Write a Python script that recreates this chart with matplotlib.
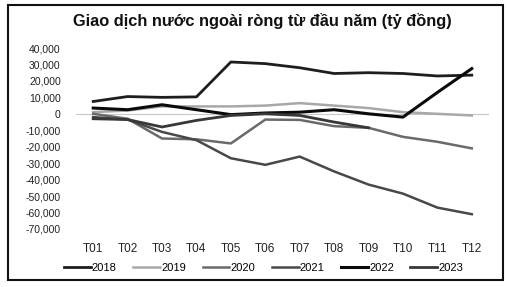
import numpy as np
import matplotlib.pyplot as plt
from matplotlib.patches import Rectangle

months = ["T01", "T02", "T03", "T04", "T05", "T06", "T07", "T08", "T09", "T10", "T11", "T12"]
years = ["2018", "2019", "2020", "2021", "2022", "2023"]

# cumulative net foreign trading (ty dong)
v2018 = [7500, 10500, 10000, 10300, 31500, 30500, 28000, 24500, 25000, 24500, 23000, 23500]
v2019 = [1000, 2000, 4500, 4500, 4500, 5000, 6500, 5000, 3500, 1000, 0, -1000]
v2020 = [0, -3000, -15000, -15500, -18000, -3500, -3700, -7500, -8500, -14000, -17000, -21000]
v2021 = [-2000, -3500, -11000, -16000, -27000, -31000, -26000, -35000, -43000, -48500, -57000, -61000]
v2022 = [3500, 2500, 5500, 2500, -500, 500, 1000, 2500, 0, -2000, 13000, 27500]
v2023 = [-3000, -3500, -8000, -4000, -1000, 0, -1000, -5000, -8500, np.nan, np.nan, np.nan]

series = [v2018, v2019, v2020, v2021, v2022, v2023]
colors = ["#1e1e1e", "#a8a8a8", "#6a6a6a", "#484848", "#0a0a0a", "#383838"]
widths = [2.0, 1.8, 1.8, 1.8, 2.2, 2.0]

plt.rcParams['font.family'] = ['Liberation Sans', 'DejaVu Sans']

fig = plt.figure(figsize=(5.07, 2.87), dpi=100)
ax = fig.add_axes([76 / 507, 1 - 229 / 287, (489 - 76) / 507, (229 - 48) / 287])

x = np.arange(len(months))
ax.axhline(0, color="#c8c8c8", lw=0.8, zorder=1)
for vals, yr, c, w in zip(series, years, colors, widths):
    ax.plot(x, vals, color=c, lw=w, label=yr, zorder=2)

ax.set_xlim(-0.5, len(months) - 0.5)
ax.set_ylim(-70000, 40000)
ax.set_yticks(np.arange(-70000, 40001, 10000))
ax.set_yticklabels([f"{t:,}" for t in range(-70000, 40001, 10000)], fontsize=7.5, color="#222222")
ax.set_xticks(x)
ax.set_xticklabels(months, fontsize=8.5, color="#222222")
ax.tick_params(length=0, pad=11)
ax.tick_params(axis="x", pad=10)
for s in ax.spines.values():
    s.set_visible(False)

fig.text(262 / 507, 1 - 21 / 287, "Giao dịch nước ngoài ròng từ đầu năm (tỷ đồng)",
         ha="center", va="center", fontsize=11.8, fontweight="bold", color="#111111")

fig.legend(loc="center", bbox_to_anchor=(0.52, 1 - 268 / 287), ncol=6, frameon=False,
           fontsize=8, handlelength=2.4, handletextpad=0.1, columnspacing=1.5)

fig.patches.append(Rectangle((8 / 507, 7 / 287), 495 / 507, 275 / 287, transform=fig.transFigure,
                             fill=False, edgecolor="#111111", lw=1.5))

fig.savefig("out.png", dpi=100)
